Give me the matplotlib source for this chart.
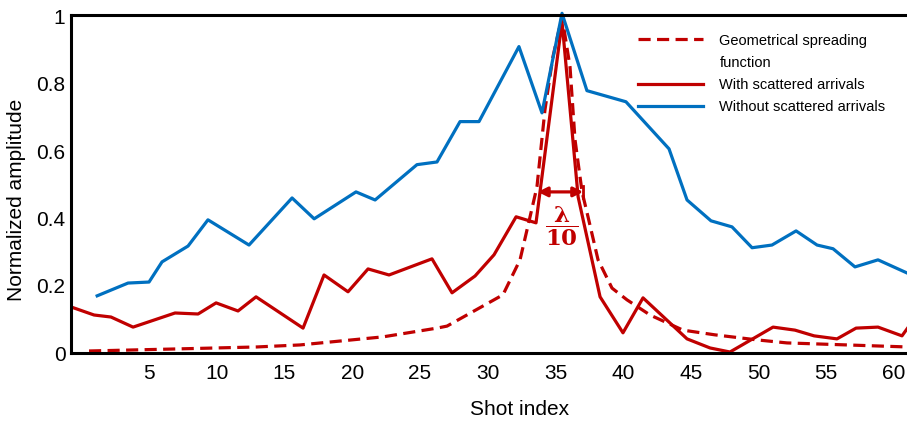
import numpy as np
import matplotlib.pyplot as plt

# shot positions / normalized amplitudes
geo_x = [0.57, 6.92, 12.97, 16.15, 22.27, 26.26, 27.0, 31.13, 32.39, 33.13, 33.64, 34.23,
         34.82, 35.49, 36.08, 36.45, 36.97, 37.41, 38.15, 38.52, 39.18, 40.29, 41.99,
         44.42, 46.78, 49.89, 52.1, 60.96]
geo_y = [0.006, 0.012, 0.018, 0.024, 0.048, 0.074, 0.080, 0.173, 0.277, 0.405, 0.494, 0.723,
         0.881, 1.0, 0.851, 0.634, 0.479, 0.405, 0.277, 0.247, 0.193, 0.158, 0.113,
         0.068, 0.054, 0.039, 0.030, 0.018]

scat_x = [-0.76, 0.94, 2.19, 3.82, 6.92, 8.62, 9.95, 11.57, 12.90, 16.37, 17.92, 19.69,
          21.17, 22.72, 25.89, 27.37, 29.07, 30.47, 32.10, 33.57, 35.49, 36.68, 38.30,
          39.99, 41.47, 44.72, 46.42, 47.89, 51.07, 52.69, 54.10, 55.79, 57.20, 58.82,
          60.59, 61.2]
scat_y = [0.137, 0.113, 0.107, 0.077, 0.119, 0.116, 0.149, 0.125, 0.167, 0.074, 0.232, 0.182,
          0.250, 0.232, 0.280, 0.179, 0.229, 0.292, 0.405, 0.387, 0.985, 0.464, 0.167,
          0.060, 0.164, 0.042, 0.015, 0.003, 0.077, 0.068, 0.051, 0.042, 0.074, 0.077,
          0.051, 0.085]

noscat_x = [1.17, 3.45, 5.0, 5.96, 7.88, 9.35, 12.38, 15.56, 17.19, 20.28, 21.69, 24.78,
            26.26, 27.96, 29.36, 32.31, 34.01, 35.49, 37.33, 40.21, 43.39, 44.72, 46.49,
            48.04, 49.52, 50.99, 52.77, 54.32, 55.50, 57.12, 58.82, 60.96]
noscat_y = [0.170, 0.208, 0.211, 0.271, 0.318, 0.396, 0.321, 0.461, 0.399, 0.479, 0.455, 0.560,
            0.568, 0.688, 0.688, 0.911, 0.714, 1.01, 0.780, 0.747, 0.607, 0.455, 0.393,
            0.375, 0.313, 0.321, 0.363, 0.321, 0.310, 0.256, 0.277, 0.238]

xticks = [5, 10, 15, 20, 25, 30, 35, 40, 45, 50, 55, 60]
yticks = [0, 0.2, 0.4, 0.6, 0.8, 1.0]
ytick_labels = ['0', '0.2', '0.4', '0.6', '0.8', '1']

RED = '#C00000'
BLUE = '#0070C0'

plt.rcParams['font.family'] = ['Liberation Sans', 'DejaVu Sans']
plt.rcParams['mathtext.fontset'] = 'dejavuserif'

fig = plt.figure(figsize=(9.07, 4.21), dpi=100)
ax = fig.add_axes([0.0783, 0.1615, 0.9217, 0.8029])

ax.plot(geo_x, geo_y, color=RED, lw=2.3, dashes=(3.8, 2.0), clip_on=False,
        label='Geometrical spreading')
# second line of the dashed entry's label, no handle
ax.plot([], [], color='none', label='function')
ax.plot(scat_x, scat_y, color=RED, lw=2.3, label='With scattered arrivals')
ax.plot(noscat_x, noscat_y, color=BLUE, lw=2.3, clip_on=False,
        label='Without scattered arrivals')

# width of the main lobe
ax.annotate('', xy=(33.7, 0.479), xytext=(37.05, 0.479),
            arrowprops=dict(arrowstyle='<|-|>', color=RED, lw=2.3,
                            mutation_scale=14, shrinkA=0, shrinkB=0))
ax.plot([37.05, 37.05], [0.462, 0.496], color=RED, lw=2.0)
ax.text(35.49, 0.375, r'$\dfrac{\boldsymbol{\lambda}}{\mathbf{10}}$', color=RED,
        fontsize=16.5, ha='center', va='center')

ax.set_xlim(-0.76, 60.96)
ax.set_ylim(0, 1.005)
ax.set_xticks(xticks)
ax.set_yticks(yticks)
ax.set_yticklabels(ytick_labels)
ax.tick_params(axis='both', length=0, labelsize=15)
ax.tick_params(axis='x', pad=8)
ax.tick_params(axis='y', pad=4)

ax.spines['right'].set_visible(False)
for s in ['left', 'top', 'bottom']:
    ax.spines[s].set_linewidth(2.2)

ax.set_xlabel('Shot index', fontsize=15)
ax.xaxis.set_label_coords(0.537, -0.14)
ax.set_ylabel('Normalized amplitude', fontsize=15)
ax.yaxis.set_label_coords(-0.054, 0.453)

ax.legend(loc='upper left', bbox_to_anchor=(0.678, 0.945), frameon=False, fontsize=10.5,
          handlelength=4.5, handletextpad=1.1, labelspacing=0.55,
          borderaxespad=0, borderpad=0)

fig.savefig('out.png', dpi=100)
